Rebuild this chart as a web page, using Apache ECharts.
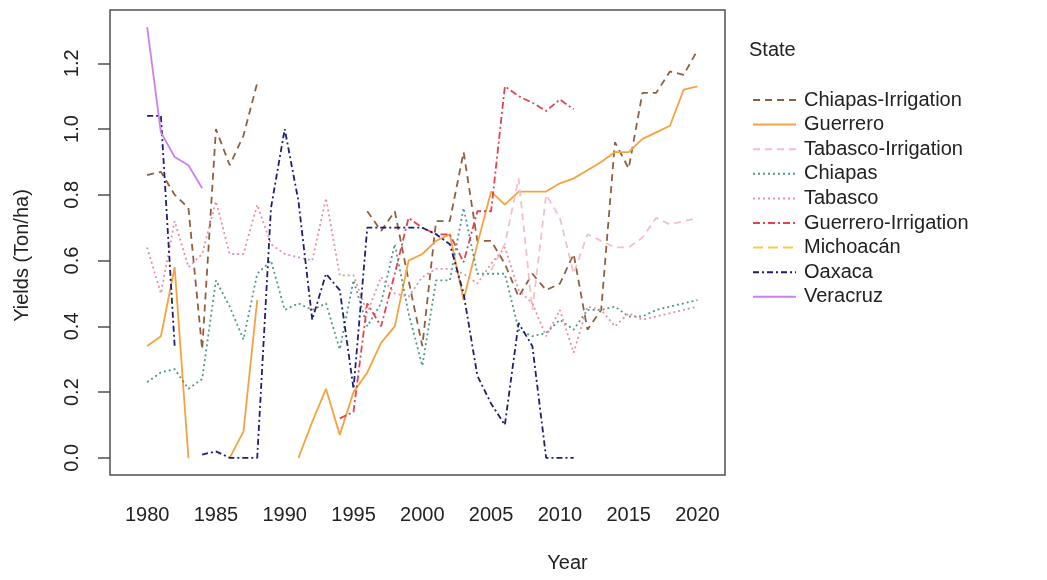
<!DOCTYPE html>
<html>
<head>
<meta charset="utf-8">
<title>Yields by State</title>
<script src="https://cdn.jsdelivr.net/npm/echarts@6/dist/echarts.min.js"></script>
<style>
  html, body { margin: 0; padding: 0; background: #fff; }
  #chart { width: 1047px; height: 580px; }
</style>
</head>
<body>
<div id="chart"></div>
<script>
// Years on the x axis (one value per year, null = no data)
const years = [];
for (let y = 1980; y <= 2020; y++) years.push(y);

const xTicks = [1980, 1985, 1990, 1995, 2000, 2005, 2010, 2015, 2020];
const yTicks = [0, 0.2, 0.4, 0.6, 0.8, 1.0, 1.2];

// Yields (Ton/ha), 1980 .. 2020
const chiapasIrrigation = [
  0.86, 0.87, 0.80, 0.76, 0.33, 1.00, 0.89, 0.98, 1.14, null,
  null, null, null, null, null, null, 0.75, 0.69, 0.75, 0.54,
  0.34, 0.72, 0.72, 0.93, 0.66, 0.66, 0.59, 0.49, 0.56, 0.51,
  0.53, 0.62, 0.39, 0.45, 0.96, 0.88, 1.11, 1.11, 1.175, 1.165,
  1.24
];
const guerrero = [
  0.34, 0.37, 0.58, 0.00, null, null, 0.00, 0.08, 0.48, null,
  null, 0.00, 0.11, 0.21, 0.07, 0.20, 0.26, 0.35, 0.40, 0.60,
  0.62, 0.66, 0.68, 0.48, 0.65, 0.81, 0.77, 0.81, 0.81, 0.81,
  0.835, 0.85, 0.875, 0.90, 0.93, 0.93, 0.97, 0.99, 1.01, 1.12,
  1.13
];
const tabascoIrrigation = [
  null, null, null, null, null, null, null, null, null, null,
  null, null, null, null, null, null, null, null, null, null,
  null, null, null, null, null, 0.57, 0.65, 0.85, 0.45, 0.80,
  0.73, 0.56, 0.68, 0.66, 0.64, 0.64, 0.67, 0.73, 0.71, 0.72,
  0.73
];
const chiapas = [
  0.23, 0.26, 0.27, 0.21, 0.24, 0.54, 0.46, 0.36, 0.56, 0.60,
  0.45, 0.47, 0.45, 0.47, 0.33, 0.54, 0.40, 0.47, 0.65, 0.44,
  0.28, 0.54, 0.54, 0.76, 0.56, 0.56, 0.56, 0.39, 0.37, 0.38,
  0.42, 0.39, 0.45, 0.45, 0.46, 0.43, 0.43, 0.45, 0.46, 0.47,
  0.48
];
const tabasco = [
  0.64, 0.50, 0.72, 0.58, 0.62, 0.78, 0.62, 0.62, 0.77, 0.65,
  0.62, 0.61, 0.60, 0.79, 0.555, 0.555, 0.44, 0.55, 0.50, 0.49,
  0.55, 0.575, 0.575, 0.56, 0.53, 0.59, 0.64, 0.51, 0.47, 0.37,
  0.45, 0.32, 0.46, 0.45, 0.40, 0.44, 0.42, 0.43, 0.44, 0.45,
  0.46
];
const guerreroIrrigation = [
  null, null, null, null, null, null, null, null, null, null,
  null, null, null, null, 0.12, 0.14, 0.47, 0.40, 0.56, 0.73,
  0.70, 0.68, 0.68, 0.595, 0.75, 0.75, 1.13, 1.10, 1.08, 1.055,
  1.09, 1.06, null, null, null, null, null, null, null, null,
  null
];
const michoacan = new Array(41).fill(null);
const oaxaca = [
  1.04, 1.04, 0.34, null, 0.01, 0.02, 0.00, 0.00, 0.00, 0.76,
  1.00, 0.78, 0.42, 0.56, 0.51, 0.21, 0.70, 0.70, 0.70, 0.70,
  0.70, 0.68, 0.65, 0.50, 0.25, 0.165, 0.10, 0.41, 0.34, 0.00,
  0.00, 0.00, null, null, null, null, null, null, null, null,
  null
];
const veracruz = [
  1.31, 0.99, 0.915, 0.89, 0.82, null, null, null, null, null,
  null, null, null, null, null, null, null, null, null, null,
  null, null, null, null, null, null, null, null, null, null,
  null, null, null, null, null, null, null, null, null, null,
  null
];

const stateNames = [
  'Chiapas-Irrigation', 'Guerrero', 'Tabasco-Irrigation', 'Chiapas', 'Tabasco',
  'Guerrero-Irrigation', 'Michoacán', 'Oaxaca', 'Veracruz'
];
const stateValues = [
  chiapasIrrigation, guerrero, tabascoIrrigation, chiapas, tabasco,
  guerreroIrrigation, michoacan, oaxaca, veracruz
];
// line colour and dash pattern per state
const stateStyles = [
  { color: '#8f6040', type: [7, 5] },
  { color: '#f4a340', type: 'solid' },
  { color: '#f5bfc8', type: [7, 5] },
  { color: '#4f9a88', type: [2, 3] },
  { color: '#e891a0', type: [2, 3] },
  { color: '#e5414f', type: [7, 3, 2, 3] },
  { color: '#f2d040', type: [10, 5] },
  { color: '#1e1e70', type: [6, 3, 2, 3] },
  { color: '#cc80ee', type: 'solid' }
];

const textColor = '#222';
const font = 'Liberation Sans, Arial, sans-serif';

const series = stateNames.map((name, i) => ({
  name: name,
  type: 'line',
  data: years.map((yr, k) => [yr, stateValues[i][k]]),
  showSymbol: false,
  symbol: 'none',
  connectNulls: false,
  lineStyle: { color: stateStyles[i].color, type: stateStyles[i].type, width: 1.8 },
  itemStyle: { color: stateStyles[i].color },
  emphasis: { disabled: true }
}));

const chart = echarts.init(document.getElementById('chart'), null, { renderer: 'canvas' });
chart.setOption({
  animation: false,
  backgroundColor: '#fff',
  textStyle: { fontFamily: font },
  title: {
    text: 'State',
    left: 744,
    top: 35,
    textStyle: { fontSize: 20, fontWeight: 'normal', color: textColor, fontFamily: font }
  },
  legend: {
    orient: 'vertical',
    left: 747,
    top: 85,
    itemWidth: 43,
    itemHeight: 14,
    itemGap: 4.6,
    selectedMode: false,
    itemStyle: { opacity: 0 },
    textStyle: { fontSize: 20, lineHeight: 20, color: textColor, fontFamily: font, padding: [0, 0, 0, 3] },
    data: stateNames
  },
  grid: {
    left: 110, right: 322, top: 10, bottom: 105,
    show: true, borderColor: '#505050', borderWidth: 1.5, backgroundColor: 'transparent'
  },
  xAxis: {
    type: 'value',
    min: 1977.3,
    max: 2022.0,
    name: 'Year',
    nameLocation: 'middle',
    nameGap: 78,
    nameTextStyle: { fontSize: 20, color: textColor, fontFamily: font, padding: [0, 0, 0, 300] },
    axisLine: { show: false },
    axisTick: { show: false },
    splitLine: { show: false },
    axisLabel: {
      customValues: xTicks,
      fontSize: 20, color: textColor, fontFamily: font, margin: 30,
      formatter: v => String(v)
    }
  },
  yAxis: {
    type: 'value',
    min: -0.052,
    max: 1.362,
    name: 'Yields (Ton/ha)',
    nameLocation: 'middle',
    nameGap: 78,
    nameTextStyle: { fontSize: 20, color: textColor, fontFamily: font, padding: [0, 26, 0, 0] },
    axisLine: { show: false },
    axisTick: { show: true, customValues: yTicks, length: 12, lineStyle: { color: '#505050', width: 1.5 } },
    splitLine: { show: false },
    axisLabel: {
      customValues: yTicks,
      rotate: 90,
      fontSize: 20, color: textColor, fontFamily: font, margin: 28,
      formatter: v => v.toFixed(1)
    }
  },
  series: series
});
</script>
</body>
</html>
